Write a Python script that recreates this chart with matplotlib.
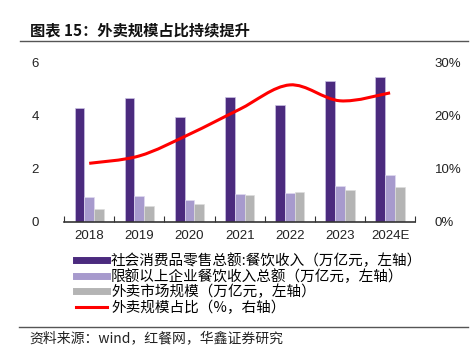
import numpy as np
import matplotlib.pyplot as plt
from matplotlib.path import Path
from matplotlib.patches import PathPatch
from matplotlib.lines import Line2D

plt.rcParams['font.family'] = ['Noto Sans CJK SC', 'DejaVu Sans']

years = ['2018', '2019', '2020', '2021', '2022', '2023', '2024E']
catering = [4.27, 4.67, 3.95, 4.69, 4.39, 5.29, 5.45]
above_limit = [0.93, 0.96, 0.82, 1.05, 1.07, 1.35, 1.75]
delivery = [0.47, 0.60, 0.67, 1.01, 1.12, 1.20, 1.32]
share = [11.0, 12.4, 16.5, 21.2, 25.8, 22.8, 24.3]

labels = ['社会消费品零售总额:餐饮收入（万亿元，左轴）',
          '限额以上企业餐饮收入总额（万亿元，左轴）',
          '外卖市场规模（万亿元，左轴）',
          '外卖规模占比（%，右轴）']

c_dark = '#4B2A7E'
c_light = '#A79ACD'
c_gray = '#B4B4B4'
c_red = '#FF0000'

fig = plt.figure(figsize=(4.75, 3.54), dpi=100)
ax = fig.add_axes([0.135, 0.374, 0.739, 0.449])
ax2 = ax.twinx()

x = np.arange(len(years))
w = 0.195
ax.bar(x - w, catering, w, color=c_dark, edgecolor='#C9C0E2', linewidth=0.5)
ax.bar(x, above_limit, w, color=c_light, edgecolor='#E0DAF0', linewidth=0.5)
ax.bar(x + w, delivery, w, color=c_gray, edgecolor='#DDDDDD', linewidth=0.5)


# smooth line through the share points (Catmull-Rom -> cubic Bezier)
def smooth_path(xs, ys, k=1/6):
    xs = np.asarray(xs, float)
    ys = np.asarray(ys, float)
    verts = [(xs[0], ys[0])]
    codes = [Path.MOVETO]
    n = len(xs)
    for i in range(n - 1):
        i0, i3 = max(i - 1, 0), min(i + 2, n - 1)
        c1 = (xs[i] + (xs[i + 1] - xs[i0]) * k, ys[i] + (ys[i + 1] - ys[i0]) * k)
        c2 = (xs[i + 1] - (xs[i3] - xs[i]) * k, ys[i + 1] - (ys[i3] - ys[i]) * k)
        verts += [c1, c2, (xs[i + 1], ys[i + 1])]
        codes += [Path.CURVE4] * 3
    return Path(verts, codes)


ax2.add_patch(PathPatch(smooth_path(x, share), facecolor='none',
                        edgecolor=c_red, lw=2.2, capstyle='butt'))

ax.set_xlim(-0.5, len(years) - 0.5)
ax.set_ylim(0, 6)
ax2.set_ylim(0, 30)
ax.set_yticks([0, 2, 4, 6])
ax2.set_yticks([0, 10, 20, 30])
ax2.set_yticklabels(['0%', '10%', '20%', '30%'])

ax.set_xticks(np.arange(-0.5, len(years), 1.0))
ax.set_xticklabels([])
ax.set_xticks(x, minor=True)
ax.set_xticklabels(years, minor=True)
ax.tick_params(axis='x', which='major', direction='in', length=4, color='#333333', width=0.8)
ax.tick_params(axis='x', which='minor', length=0, pad=6, labelsize=9.5, labelcolor='#222222')
ax.tick_params(axis='y', length=0, pad=18, labelsize=9.5, labelcolor='#222222')
ax2.tick_params(axis='y', length=0, pad=14, labelsize=9.5, labelcolor='#222222')
for lab in ax.get_xticklabels(minor=True) + ax.get_yticklabels() + ax2.get_yticklabels():
    lab.set_family(['Liberation Sans', 'DejaVu Sans'])

for a in (ax, ax2):
    for s in ['top', 'left', 'right', 'bottom']:
        a.spines[s].set_visible(False)
ax.spines['bottom'].set_visible(True)
ax.spines['bottom'].set_color('#333333')
ax.spines['bottom'].set_linewidth(1.2)

h2 = [Line2D([], [], color=c_dark, lw=5), Line2D([], [], color=c_light, lw=5),
      Line2D([], [], color=c_gray, lw=5), Line2D([], [], color=c_red, lw=2.2)]
fig.legend(h2, labels, loc='upper left', bbox_to_anchor=(0.16, 0.285),
           frameon=False, handlelength=2.1, handletextpad=0.3,
           labelspacing=0.08, borderpad=0, borderaxespad=0, prop={'size': 10.5})

fig.text(0.063, 0.915, '图表 15：外卖规模占比持续提升', fontsize=11, fontweight='bold',
         color='#111111', va='center')
fig.add_artist(plt.Line2D([0.042, 0.985], [0.884, 0.884], color='#555555', lw=1.0))
fig.add_artist(plt.Line2D([0.040, 0.985], [0.075, 0.075], color='#555555', lw=1.0))
fig.text(0.061, 0.045, '资料来源：wind，红餐网，华鑫证券研究', fontsize=10,
         color='#222222', va='center')

fig.savefig('out.png', dpi=100)
